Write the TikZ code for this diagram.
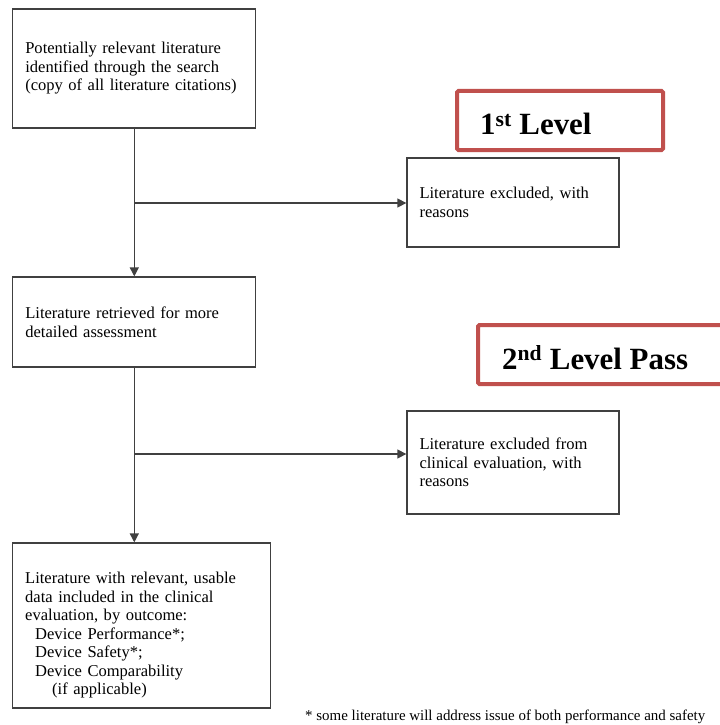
\documentclass[tikz,border=0pt]{standalone}
\usepackage{fontspec}
\setmainfont{Liberation Serif}
\usetikzlibrary{arrows.meta}
\definecolor{lvlred}{HTML}{C0504D}
\tikzset{
  box/.style={draw=black!75, line width=1.3bp, fill=white, align=left,
    inner xsep=12.5bp, inner ysep=0pt, anchor=center,
    font=\fontsize{16.6}{18.6}\selectfont},
  lvl/.style={draw=lvlred, line width=4bp, rounded corners=1.5bp, inner sep=0pt},
  lvltext/.style={anchor=base west, inner sep=0pt, font=\fontsize{31}{36}\selectfont\bfseries},
  conn/.style={draw=black!75, line width=1.3bp},
  arr/.style={conn, -{Triangle[width=9bp,length=9bp]}}
}
\begin{document}
\begin{tikzpicture}[x=1bp,y=-1bp]
\clip (0,0) rectangle (720,725);
\fill[white] (0,0) rectangle (720,725);
\node[box, text width=218bp, minimum height=119bp] (b1) at (134.3,68.5)
  {Potentially relevant literature\\identified through the search\\(copy of all literature citations)};
\node[box, text width=218bp, minimum height=90bp] (b2) at (134.3,322)
  {Literature retrieved for more\\detailed assessment};
\node[box, text width=233bp, minimum height=165bp] (b3) at (141.7,625.5)
  {\rule{0pt}{31bp}Literature with relevant, usable\\data included in the clinical\\evaluation, by outcome:\\
  \hspace*{10bp}Device Performance*;\\\hspace*{10bp}Device Safety*;\\\hspace*{10bp}Device Comparability\\\hspace*{27bp}(if applicable)};
\node[box, text width=187bp, minimum height=89bp] (e1) at (513,202.5)
  {Literature excluded, with\\reasons};
\node[box, text width=187bp, minimum height=103bp] (e2) at (513,462.5)
  {Literature excluded from\\clinical evaluation, with\\reasons};
\node[lvl, minimum width=206bp, minimum height=59bp] (r1) at (560,120.5) {};
\node[lvltext] (t1) at (480,135) {1\textsuperscript{st} Level};
\node[lvl, minimum width=290bp, minimum height=59bp] (r2) at (623,354.5) {};
\node[lvltext] (t2) at (502,369) {2\textsuperscript{nd} Level Pass};
\coordinate (j1) at (134,203);
\coordinate (j2) at (134,454);
\draw[arr] (b1.south) -- (b2.north);
\draw[arr] (j1) -- (e1.west |- j1);
\draw[arr] (b2.south) -- (b3.north -| b2.south);
\draw[arr] (j2) -- (e2.west |- j2);
\node[anchor=base west, inner sep=0pt, font=\fontsize{15}{17}\selectfont] (fn) at (305,720)
  {* some literature will address issue of both performance and safety};
\end{tikzpicture}
\end{document}
